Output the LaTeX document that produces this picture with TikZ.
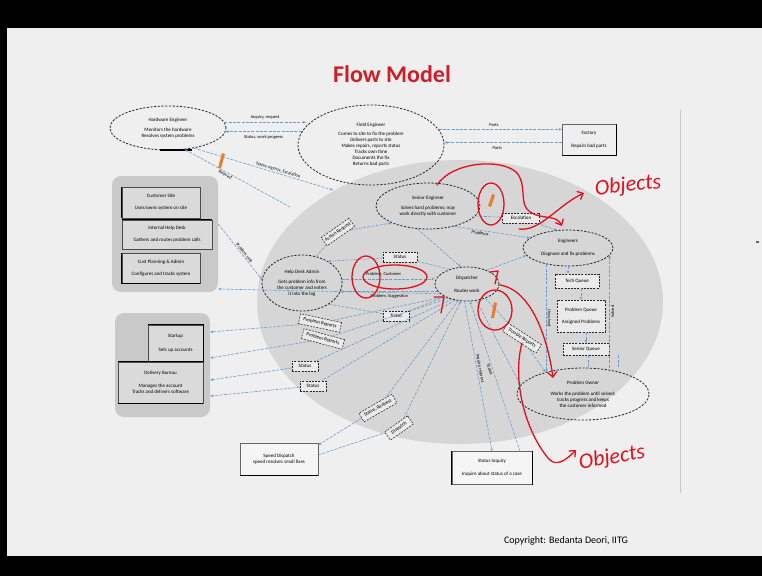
\documentclass[tikz,border=0pt]{standalone}
\usepackage{fontspec}
\setmainfont{Carlito}
\usetikzlibrary{shapes.geometric,arrows.meta,calc}
\definecolor{slidebg}{HTML}{EFEFEF}
\definecolor{groupgray}{HTML}{D6D6D6}
\definecolor{panelgray}{HTML}{C9C9C9}
\definecolor{cardgray}{HTML}{DADADA}
\definecolor{flowblue}{HTML}{6E9CC8}
\definecolor{titlered}{HTML}{CC1F2A}
\definecolor{inkred}{HTML}{E0101C}
\definecolor{pencil}{HTML}{E2802F}
\tikzset{
  txt/.style={font=\fontsize{5}{6}\selectfont, align=center},
  role/.style={draw=black!85, ellipse, dash pattern=on 2.2pt off 1.5pt, line width=0.8pt, inner sep=0pt, txt},
  artbox/.style={draw=black!85, line width=0.55pt, dash pattern=on 2pt off 1.2pt, fill=groupgray!50!white, minimum height=10pt, inner sep=1.5pt, txt},
  card/.style={draw=black!70, line width=0.4pt, fill=cardgray, inner sep=0pt, txt},
  place/.style={draw=black!60, line width=0.4pt, fill=slidebg!60!white, inner sep=0pt, txt},
  flow/.style={draw=flowblue, line width=0.6pt, dash pattern=on 3pt off 1.3pt, -{Stealth[length=3.2pt,width=2.6pt]}},
  flowlab/.style={font=\fontsize{4.5}{5.2}\selectfont, inner sep=1pt},
  ink/.style={draw=inkred, line width=1.3pt, line cap=round, line join=round},
  barb/.style={-{Straight Barb[length=5pt,width=9pt,line width=1.3pt]}},
  handnote/.style={text=inkred, font=\fontsize{22}{22}\selectfont\itshape}
}
\begin{document}
\begin{tikzpicture}[x=1pt,y=-1pt]
\useasboundingbox (0,0) rectangle (762,576);
% screen frame and slide
\fill[black] (0,0) rectangle (762,576);
\fill[slidebg] (7,28) rectangle (762,556);
\draw[black!22, line width=0.8pt] (680,110) -- (680,493);
\fill[black!60] (756,241) rectangle (759,242.5);

\node[font=\fontsize{24}{24}\selectfont\bfseries, text=titlered] (title) at (392,74) {Flow Model};
\node[font=\fontsize{10}{10}\selectfont] (copy) at (566,541) {Copyright: Bedanta Deori, IITG};

% the organisation
\node[ellipse, fill=groupgray, minimum width=406pt, minimum height=284pt] (org) at (460,302) {};

% outside roles
\node[role, minimum width=116pt, minimum height=44pt] (hwe) at (168,128)
  {Hardware Engineer\\[4pt] Monitors the hardware\\ Resolves system problems};
\draw[line width=1.4pt] (160,150) -- (192,150);
\node[role, minimum width=146pt, minimum height=80pt] (fe) at (371,145)
  {Field Engineer\\[3pt] Comes to site to fix the problem\\ Delivers parts to site\\ Makes repairs, reports status\\ Tracks own time\\ Documents the fix\\ Returns bad parts};
\node[place, minimum width=54pt, minimum height=31pt, fill=slidebg] (fac) at (589,140)
  {Factory\\[7pt] Repairs bad parts};
\draw[line width=1pt] (fac.north east) -- (fac.south east) -- (fac.south west);

% customer-side panels
\node[fill=panelgray, rounded corners=9pt, minimum width=106pt, minimum height=116pt] (lp1) at (165,234) {};
\node[card, minimum width=78pt, minimum height=31pt] (cust) at (161,202.5) {Customer Site\\[6pt] Uses/owns system on site};
\node[card, minimum width=90pt, minimum height=29pt] (ihd) at (167,234.5) {Internal Help Desk\\[6pt] Gathers and routes problem calls};
\node[card, minimum width=78pt, minimum height=30pt] (cpa) at (161,268) {Cust Planning \& Admin\\[6pt] Configures and tracks system};
\draw[line width=1.1pt] (cust.north west) -- (cust.south west);
\draw[line width=1.1pt] (ihd.north west) -- (ihd.north east);
\draw[line width=1.1pt] (cpa.north west) -- (cpa.south west) -- (cpa.south east);

\node[fill=panelgray, rounded corners=9pt, minimum width=95pt, minimum height=104pt] (lp2) at (162.5,365) {};
\node[card, minimum width=55pt, minimum height=37pt] (stu) at (175.5,343.5) {Startup\\[8pt] Sets up accounts};
\node[card, minimum width=85pt, minimum height=41pt] (bur) at (160.5,382.5) {Delivery Bureau\\[7pt] Manages the account\\ Tracks and delivers software};
\draw[line width=1.1pt] (stu.north west) -- (stu.north east) -- (stu.south east);
\draw[line width=1.1pt] (bur.north west) -- (bur.north east);
\draw[line width=1.1pt] (bur.south west) -- (bur.south east);

% bottom places
\node[place, minimum width=78pt, minimum height=32pt] (sd) at (279,459) {Speed Dispatch\\ speed resolves small fixes};
\draw[line width=1.4pt] (sd.south west) -- (sd.south east);
\node[place, minimum width=80pt, minimum height=33pt] (si) at (492,468) {Status Inquiry\\[7pt] Inquire about status of a case};
\draw[line width=1.2pt] (si.north west) -- (si.south west);
\draw[line width=1.2pt] (si.north east) -- (si.south east);

% inside roles
\node[role, minimum width=104pt, minimum height=46pt] (se) at (428,206)
  {Senior Engineer\\[4pt] Solves hard problems; may\\ work directly with customer};
\node[role, minimum width=90pt, minimum height=36pt] (eng) at (568,248)
  {Engineers\\[7pt] Diagnose and fix problems};
\node[role, minimum width=80pt, minimum height=56pt] (hda) at (302,283)
  {Help Desk Admin\\[4pt] Gets problem info from\\ the customer and enters\\ it into the log};
\node[role, minimum width=64pt, minimum height=34pt] (disp) at (467,284)
  {Dispatcher\\[7pt] Routes work};
\node[role, minimum width=132pt, minimum height=52pt] (prob) at (583,394)
  {Problem Owner\\[5pt] Works the problem until solved;\\ tracks progress and keeps\\ the customer informed};

% artifacts
\node[artbox, minimum width=44pt, minimum height=14pt] (tq) at (577,281) {Tech Queue};
\node[artbox, minimum width=48pt, minimum height=32pt] (pq) at (581,316) {Problem Queue\\[6pt] Assigned Problems};
\node[artbox, minimum width=46pt, minimum height=12pt] (sq) at (586,349) {Senior Queue};
\node[artbox, minimum width=37pt] (esc) at (521,218) {Escalation};
\node[artbox, minimum width=34pt] (st1) at (400,257) {Status};
\node[artbox, minimum width=26pt] (tk) at (396,316) {Ticket};
\node[artbox, minimum width=32pt, rotate=35] (ar) at (338,232) {Action Request};
\node[artbox, minimum width=42pt, rotate=-12] (prA) at (320,323) {Problem Reports};
\node[artbox, minimum width=42pt, rotate=-15] (prB) at (323,339) {Problem Reports};
\node[artbox, minimum width=26pt] (stA) at (305,366) {Status};
\node[artbox, minimum width=26pt] (stB) at (313,386) {Status};
\node[artbox, minimum width=38pt, rotate=30] (sdA) at (378,408) {Status, Request};
\node[artbox, minimum width=28pt, rotate=35] (sdB) at (399,428) {Dispatch};
\node[artbox, minimum width=40pt, rotate=-33] (tr) at (522,338) {Trouble Reports};

% flows between outside roles
\draw[flow] (hwe.6) -- (hwe.6 -| fe.164) node[flowlab, midway, above=2pt] {Inquiry, request};
\draw[flow] (fe.169) -- (fe.169 -| hwe.-4) node[flowlab, midway, below=3pt] {Status, work progress};
\draw[flow] (fe.13) -- (fe.13 -| fac.west) node[flowlab, pos=0.45, above=2pt] {Parts};
\draw[flow] (fac.west |- fe.2) -- (fe.2) node[flowlab, pos=0.55, below=3pt] {Parts};

\coordinate (orgA) at (333,190);
\coordinate (orgB) at (290,207);
\draw[flow] (hwe.-38) -- (orgA) node[flowlab, pos=0.6, sloped, above] {Status reports, Escalation};
\draw[flow] (orgB) -- (hwe.-52) node[flowlab, pos=0.6, sloped, below] {Request};

% customer side to help desk
\draw[flow] ([yshift=10pt]lp1.east) -- (hda.175) node[flowlab, pos=0.55, sloped, above] {Problem calls};

% help desk and senior engineer
\draw[flow] (hda.62) -- (ar) -- (se.205);
\draw[flow] (se.-115) -- (disp.110);
\draw[flow] (disp.140) -- (st1) -- (hda.40);
\draw[flow] (hda.6) -- (hda.6 -| disp.west) node[flowlab, pos=0.45, above=1pt] {Problem, Customer};
\draw[flow] (disp.195) -- (disp.195 -| hda.-12) node[flowlab, pos=0.5, below=1.5pt] {Problem, Suggestion};
\draw[flow] (hda.-38) -- (tk) -- (disp.-150);

% senior engineer to engineers
\draw[flow] (se.-12) -- (esc) -- (eng.122);
\draw[flow] (se.-38) -- (eng.165) node[flowlab, pos=0.35, sloped, below] {Problems};
\draw[flow] (disp.35) -- (eng.190);

% engineers' queue
\draw[flow] (eng.-90) -- (eng.-90 |- tq.north);
\draw[flow] (tq.south -| pq.north) -- (pq.north);
\draw[flow] (pq.south -| sq.north) -- (sq.north);
\draw[flow, -] ([xshift=2pt]sq.south) -- ([xshift=2pt]sq.south |- prob.north);
\draw[flow, -] ([xshift=32pt]sq.south) -- ([xshift=32pt]sq.south |- prob.70);
\draw[flow] (eng.-143) -- (eng.-143 |- prob.150) node[flowlab, midway, sloped, above] {Unsolved};
\draw[flow] (eng.-10 |- prob.north) -- (eng.-10) node[flowlab, midway, sloped, below] {Solved};

% dispatcher fan-out
\draw[flow] (disp.200) -- ([yshift=-55pt]lp1.east);
\draw[flow] (disp.210) -- (prA) -- ([yshift=33pt]lp2.east);
\draw[flow] (disp.218) -- (prB) -- ([yshift=7pt]lp2.east);
\draw[flow] (disp.226) -- (stA) -- ([yshift=-15pt]lp2.east);
\draw[flow] (disp.234) -- (stB) -- ([yshift=-31pt]lp2.east);
\draw[flow] (disp.242) -- (sdA) -- ([yshift=14pt]sd.east);
\draw[flow] ([yshift=4pt]sd.east) -- (sdB) -- (disp.250);
\draw[flow] (disp.262) -- (si.north) node[flowlab, pos=0.45, sloped, above] {Inquiry, request};
\draw[flow] ([xshift=28pt]si.north) -- (disp.280) node[flowlab, pos=0.55, sloped, below] {Status};
\draw[flow] (disp.-60) -- (prob.172);
\draw[flow] (disp.-38) -- (tr) -- (prob.150);

% hand annotations
\fill[pencil] (218,168) -- (222,153) -- (225,154) -- (221,168) -- cycle;
\fill[pencil] (488,206) -- (492,194) -- (495,195) -- (491,207) -- cycle;
\fill[pencil] (491,318) -- (494,302) -- (497,303) -- (494,318) -- cycle;

\draw[ink] (491,204) ellipse [x radius=13, y radius=21];
\draw[ink] (437,185) .. controls (452,162) and (500,158) .. (516,172)
  .. controls (528,184) and (518,204) .. (530,212);
\draw[ink, barb] (530,212) .. controls (542,220) and (556,214) .. (562,226);
\draw[ink, barb] (519,229) .. controls (540,232) and (558,205) .. (584,193);
\node[handnote, rotate=6] (obj1) at (628,186) {Objects};

\draw[ink] (395,277) ellipse [x radius=32, y radius=12];
\draw[ink] (366,277) ellipse [x radius=14, y radius=21];
\draw[ink] (495,310) ellipse [x radius=17, y radius=20];
\draw[ink] (490,272) -- (498,271) -- (495,284);
\draw[ink] (434,297) -- (444,297) -- (441,313);
\draw[ink, barb] (500,285) .. controls (532,290) and (548,340) .. (553,378);
\draw[ink, barb] (522,343) .. controls (512,380) and (525,430) .. (548,458)
  .. controls (556,468) and (566,460) .. (576,450);
\node[handnote, rotate=10] (obj2) at (612,458) {Objects};
\end{tikzpicture}
\end{document}
